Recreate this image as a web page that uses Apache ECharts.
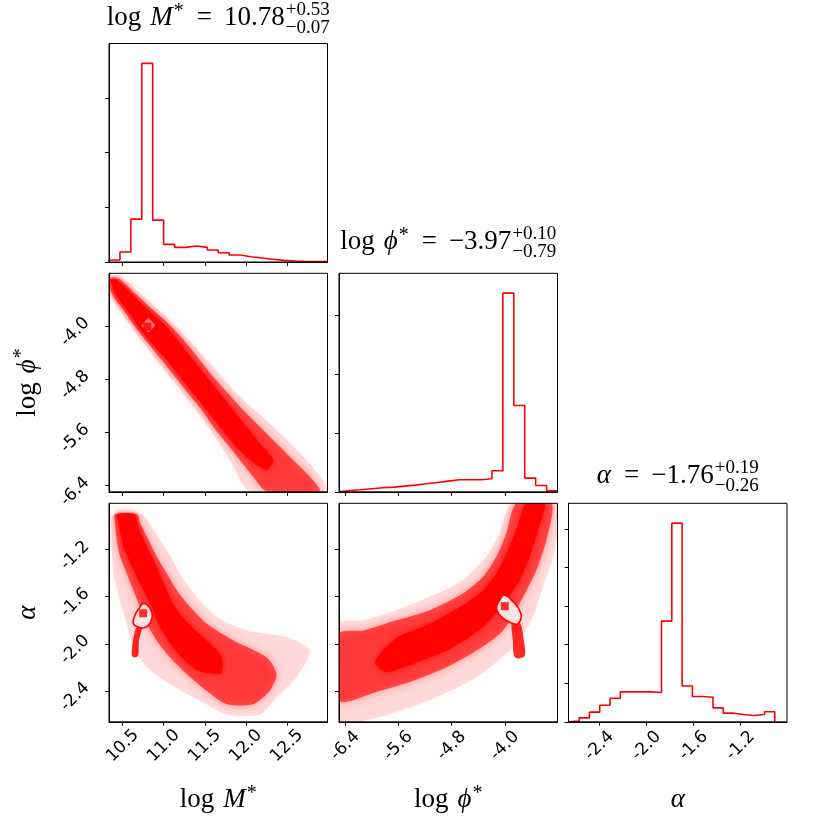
<!DOCTYPE html>
<html lang="en">
<head>
    <meta charset="UTF-8">
    <title>corner plot</title>
    <style>
        html, body {
            margin: 0;
            background: #fff;
        }

        #chart {
            width: 831px;
            height: 831px;
        }
    </style>
</head>
<body>
    <div id="chart"></div>

    <script src="https://cdn.jsdelivr.net/npm/echarts@6/dist/echarts.min.js"></script>
    <script>
        // axis ranges, read from the frame edges
        var logMRange = [10.333, 12.995];
        var logPhiRange = [-6.493, -3.207];
        var alphaRange = [-2.663, -0.806];
        var alphaHistRange = [-2.66, -0.91];   // alpha histogram bins stop short of the axis end

        var logMTicks = [10.5, 11.0, 11.5, 12.0, 12.5];
        var logPhiTicks = [-6.4, -5.6, -4.8, -4.0];
        var alphaTicks = [-2.4, -2.0, -1.6, -1.2];

        // histogram counts (20 bins each, arbitrary units, one y tick per 1000)
        var logMCounts = [37, 183, 785, 3634, 767, 323, 268, 292, 268, 219, 170, 128, 97, 73, 49, 30, 18, 8, 6, 6];
        var logPhiCounts = [23, 34, 51, 68, 80, 97, 114, 136, 159, 182, 205, 205, 205, 222, 358, 3375, 1466, 233, 108, 17];
        var alphaCounts = [17, 103, 250, 431, 612, 776, 776, 776, 759, 2612, 5155, 931, 655, 638, 362, 224, 190, 164, 190, 259];
        var logMHistTicks = [0, 1000, 2000, 3000];
        var logPhiHistTicks = [0, 1000, 2000, 3000];
        var alphaHistTicks = [0, 1000, 2000, 3000, 4000, 5000];

        // titles: median and errors
        var medians = ['10.78', '\u22123.97', '\u22121.76'];
        var errUp = ['+0.53', '+0.10', '+0.19'];
        var errLo = ['\u22120.07', '\u22120.79', '\u22120.26'];

        // best-fit squares
        var bestMPhi = [10.80, -4.01];
        var bestMAlpha = [10.75, -1.74];
        var bestPhiAlpha = [-4.00, -1.68];

        // point clouds, traced as nested outlines (outer sparse -> dense core)
        var mPhiHalo = [[10.333, -3.258], [10.337, -3.509], [10.609, -4.010], [10.913, -4.511], [11.238, -5.013], [11.542, -5.514], [11.806, -6.015], [12.050, -6.486], [12.991, -6.486], [12.739, -6.015], [12.334, -5.514], [11.887, -5.013], [11.522, -4.511], [11.157, -4.010], [10.711, -3.509], [10.467, -3.258]];
        var mPhiMid = [[10.337, -3.283], [10.366, -3.509], [10.508, -3.759], [10.650, -4.010], [10.812, -4.261], [10.974, -4.511], [11.137, -4.762], [11.299, -5.013], [11.461, -5.263], [11.603, -5.514], [11.765, -5.764], [11.928, -6.015], [12.090, -6.266], [12.252, -6.486], [12.902, -6.486], [12.780, -6.266], [12.577, -6.015], [12.374, -5.764], [12.171, -5.514], [11.968, -5.263], [11.786, -5.013], [11.603, -4.762], [11.441, -4.511], [11.279, -4.261], [11.096, -4.010], [10.873, -3.759], [10.650, -3.509], [10.447, -3.283]];
        var mPhiCore = [[10.354, -3.308], [10.406, -3.509], [10.548, -3.759], [10.690, -4.010], [10.853, -4.261], [11.035, -4.511], [11.198, -4.762], [11.360, -5.013], [11.522, -5.263], [11.684, -5.514], [11.847, -5.764], [12.050, -6.015], [12.252, -6.165], [12.334, -6.015], [12.171, -5.764], [12.009, -5.514], [11.847, -5.263], [11.684, -5.013], [11.522, -4.762], [11.360, -4.511], [11.198, -4.261], [11.035, -4.010], [10.812, -3.759], [10.609, -3.509], [10.427, -3.308]];
        var mPhiContour = [[10.812, -3.869], [10.870, -3.935], [10.905, -3.985], [10.870, -4.045], [10.812, -4.110], [10.760, -4.050], [10.719, -4.000], [10.760, -3.930]];

        var mAlphaHalo = [[10.386, -0.900], [10.366, -1.114], [10.386, -1.400], [10.467, -1.628], [10.548, -1.828], [10.629, -2.028], [10.792, -2.200], [11.076, -2.343], [11.441, -2.485], [11.765, -2.600], [12.171, -2.600], [12.374, -2.457], [12.618, -2.285], [12.780, -2.057], [12.496, -1.943], [12.009, -1.886], [11.644, -1.771], [11.400, -1.600], [11.198, -1.400], [11.035, -1.200], [10.873, -1.029], [10.731, -0.900]];
        var mAlphaMid = [[10.406, -0.900], [10.406, -0.971], [10.427, -1.114], [10.467, -1.257], [10.548, -1.400], [10.629, -1.543], [10.711, -1.686], [10.792, -1.828], [10.913, -1.971], [11.076, -2.114], [11.279, -2.257], [11.522, -2.400], [11.765, -2.514], [12.090, -2.514], [12.293, -2.400], [12.374, -2.257], [12.252, -2.114], [11.847, -1.971], [11.522, -1.828], [11.319, -1.686], [11.157, -1.543], [11.035, -1.400], [10.913, -1.257], [10.812, -1.114], [10.711, -0.971], [10.678, -0.900]];
        var mAlphaCore = [[10.427, -0.900], [10.447, -0.971], [10.487, -1.114], [10.556, -1.257], [10.650, -1.400], [10.751, -1.543], [10.853, -1.686], [10.934, -1.828], [11.056, -1.971], [11.218, -2.114], [11.420, -2.230], [11.700, -2.250], [11.700, -2.100], [11.522, -1.971], [11.299, -1.828], [11.137, -1.686], [11.035, -1.543], [10.946, -1.400], [10.853, -1.257], [10.751, -1.114], [10.678, -0.971], [10.650, -0.900]];
        var mAlphaTail = [[10.670, -1.857], [10.735, -1.857], [10.698, -1.971], [10.690, -2.100], [10.650, -2.117], [10.610, -2.100], [10.626, -1.971]];
        var mAlphaContour = [[10.759, -1.657], [10.853, -1.729], [10.841, -1.814], [10.771, -1.862], [10.690, -1.857], [10.629, -1.828], [10.650, -1.757], [10.690, -1.708]];

        var phiAlphaHalo = [[-6.495, -1.828], [-6.129, -1.800], [-5.628, -1.714], [-5.126, -1.600], [-4.625, -1.457], [-4.274, -1.257], [-4.074, -1.057], [-3.898, -0.806], [-3.222, -0.806], [-3.247, -1.200], [-3.422, -1.514], [-3.623, -1.828], [-3.924, -2.057], [-4.425, -2.285], [-4.926, -2.428], [-5.427, -2.542], [-5.928, -2.628], [-6.495, -2.657]];
        var phiAlphaMid = [[-6.495, -1.914], [-6.129, -1.886], [-5.628, -1.800], [-5.126, -1.714], [-4.625, -1.571], [-4.324, -1.429], [-4.124, -1.257], [-3.974, -1.057], [-3.823, -0.806], [-3.297, -0.806], [-3.372, -1.114], [-3.522, -1.371], [-3.723, -1.600], [-4.024, -1.886], [-4.425, -2.057], [-4.876, -2.200], [-5.377, -2.314], [-5.878, -2.400], [-6.495, -2.485]];
        var phiAlphaCore = [[-5.950, -2.150], [-5.628, -1.950], [-5.126, -1.830], [-4.625, -1.671], [-4.324, -1.543], [-4.124, -1.400], [-3.974, -1.229], [-3.823, -1.029], [-3.673, -0.806], [-3.397, -0.806], [-3.497, -1.029], [-3.623, -1.257], [-3.773, -1.457], [-3.974, -1.628], [-4.224, -1.800], [-4.525, -1.943], [-4.876, -2.057], [-5.377, -2.171], [-5.800, -2.240]];
        var phiAlphaTail = [[-3.893, -1.817], [-3.773, -1.817], [-3.713, -1.971], [-3.698, -2.100], [-3.803, -2.125], [-3.863, -2.100], [-3.878, -1.971]];
        var phiAlphaContour = [[-4.009, -1.586], [-3.874, -1.643], [-3.758, -1.742], [-3.798, -1.828], [-3.898, -1.823], [-4.024, -1.785], [-4.099, -1.737], [-4.123, -1.686], [-4.074, -1.628]];

        var RED = '#ff0000';
        var colLeft = [109, 339, 568.5];
        var rowTop = [43.5, 273.3, 503.3];
        var size = 218.5;

        var vars = [
            { range: logMRange, ticks: logMTicks },
            { range: logPhiRange, ticks: logPhiTicks },
            { range: alphaRange, ticks: alphaTicks }
        ];
        var hists = [
            { counts: logMCounts, binRange: logMRange, ticks: logMHistTicks },
            { counts: logPhiCounts, binRange: logPhiRange, ticks: logPhiHistTicks },
            { counts: alphaCounts, binRange: alphaHistRange, ticks: alphaHistTicks }
        ];
        var panels = [[0, 0], [1, 0], [1, 1], [2, 0], [2, 1], [2, 2]];

        function makeAxis(dim, gi, range, ticks, showLabels) {
            var label = {
                show: showLabels,
                customValues: ticks,
                rotate: 45,
                fontFamily: 'DejaVu Sans',
                fontSize: 17,
                color: '#000',
                align: 'center',
                verticalAlign: dim === 'x' ? 'middle' : 'top',
                margin: dim === 'x' ? 24 : 40,
                formatter: function (v) { return Number(v).toFixed(1); }
            };
            return {
                type: 'value',
                gridIndex: gi,
                min: range[0],
                max: range[1],
                position: dim === 'x' ? 'bottom' : 'left',
                axisLine: { show: true, onZero: false, lineStyle: { color: '#000', width: 1 } },
                axisTick: { show: true, inside: false, length: 4, customValues: ticks, lineStyle: { color: '#000', width: 1 } },
                axisLabel: label,
                splitLine: { show: false }
            };
        }

        function stepData(h) {
            var n = h.counts.length;
            var lo = h.binRange[0];
            var w = (h.binRange[1] - lo) / n;
            var d = [[lo, 0]];
            for (var i = 0; i < n; i++) d.push([lo + i * w, h.counts[i]]);
            d.push([lo + n * w, 0]);
            return d;
        }

        function polySeries(gi, pts, style, smooth) {
            return {
                type: 'custom',
                xAxisIndex: gi,
                yAxisIndex: gi,
                data: pts,
                clip: true,
                silent: true,
                renderItem: function (params, api) {
                    if (params.dataIndex !== 0) return null;
                    return {
                        type: 'polygon',
                        shape: { points: pts.map(function (p) { return api.coord(p); }), smooth: smooth },
                        style: style
                    };
                }
            };
        }

        function cloud(gi, halo, mid, core) {
            return [
                polySeries(gi, halo, { fill: 'rgba(255,0,0,0.13)', shadowBlur: 12, shadowColor: 'rgba(255,0,0,0.25)' }, 0.25),
                polySeries(gi, mid, { fill: 'rgba(255,0,0,0.62)', shadowBlur: 8, shadowColor: 'rgba(255,0,0,0.5)' }, 0.25),
                polySeries(gi, core, { fill: 'rgba(255,0,0,0.9)', shadowBlur: 5, shadowColor: 'rgba(255,0,0,0.7)' }, 0.25)
            ];
        }

        function contour(gi, pts, fill) {
            return polySeries(gi, pts, { fill: fill, stroke: RED, lineWidth: 1.6 }, 0.45);
        }

        function marker(gi, pt) {
            return {
                type: 'scatter', xAxisIndex: gi, yAxisIndex: gi, data: [pt],
                symbol: 'rect', symbolSize: 8, itemStyle: { color: RED }, silent: true, z: 5
            };
        }

        var grids = [], xAxes = [], yAxes = [], series = [];
        panels.forEach(function (rc, gi) {
            var r = rc[0], c = rc[1];
            grids.push({
                left: colLeft[c], top: rowTop[r], width: size, height: size,
                containLabel: false, outerBoundsMode: 'none',
                show: true, backgroundColor: 'transparent', borderColor: '#000', borderWidth: 1, z: 10
            });
            xAxes.push(makeAxis('x', gi, vars[c].range, vars[c].ticks, r === 2));
            if (r === c) {
                var h = hists[c];
                yAxes.push(makeAxis('y', gi, [0, 1.1 * Math.max.apply(null, h.counts)], h.ticks, false));
                series.push({
                    type: 'line', xAxisIndex: gi, yAxisIndex: gi, data: stepData(h), step: 'end',
                    symbol: 'none', lineStyle: { color: RED, width: 1.6 }, silent: true
                });
            } else {
                yAxes.push(makeAxis('y', gi, vars[r].range, vars[r].ticks, c === 0));
            }
        });

        series = series.concat(cloud(1, mPhiHalo, mPhiMid, mPhiCore));
        series.push(contour(1, mPhiContour, '#ff7070'), marker(1, bestMPhi));

        series = series.concat(cloud(3, mAlphaHalo, mAlphaMid, mAlphaCore));
        series.push(polySeries(3, mAlphaTail, { fill: 'rgba(255,0,0,0.85)' }, 0.3));
        series.push(contour(3, mAlphaContour, '#ffe2e2'), marker(3, bestMAlpha));

        series = series.concat(cloud(4, phiAlphaHalo, phiAlphaMid, phiAlphaCore));
        series.push(polySeries(4, phiAlphaTail, { fill: 'rgba(255,0,0,0.85)' }, 0.3));
        series.push(contour(4, phiAlphaContour, '#ffe2e2'), marker(4, bestPhiAlpha));

        // math-style labels built from text pieces
        var measureCtx = document.createElement('canvas').getContext('2d');
        var BIG = 27, SMALL = 19;

        function mathFont(p) {
            return (p.it ? 'italic ' : '') + p.size + 'px "Liberation Serif", "DejaVu Serif", serif';
        }
        function textWidth(p) {
            measureCtx.font = mathFont(p);
            return measureCtx.measureText(p.t).width;
        }
        function rm(t, gap) { return { t: t, size: BIG, gap: gap || 0 }; }
        function it(t, gap) { return { t: t, size: BIG, it: true, gap: gap || 0 }; }
        function star() { return { t: '*', size: SMALL + 1, dy: -8, gap: 1 }; }
        function limits(up, lo) {
            return { stack: [{ t: up, size: SMALL, dy: -10.5 }, { t: lo, size: SMALL, dy: 7 }], gap: 1 };
        }

        function mathText(pieces, cx, baseline, rotation) {
            var kids = [];
            var x = 0;
            function put(p) {
                kids.push({
                    type: 'text', x: x, y: (p.dy || 0) - 0.34 * p.size,
                    style: { text: p.t, font: mathFont(p), fill: '#000', align: 'left', verticalAlign: 'middle' }
                });
                return textWidth(p);
            }
            pieces.forEach(function (p) {
                x += p.gap || 0;
                if (p.stack) {
                    var x0 = x, w = 0;
                    p.stack.forEach(function (q) { x = x0; w = Math.max(w, put(q)); });
                    x = x0 + w;
                } else {
                    x += put(p);
                }
            });
            kids.forEach(function (k) { k.x -= x / 2; });
            return { type: 'group', x: cx, y: baseline, rotation: rotation || 0, children: kids, silent: true };
        }

        var cx = colLeft.map(function (l) { return l + size / 2; });
        var graphics = [
            mathText([rm('log'), it('M', 9), star(), rm('=', 13), rm(medians[0], 12), limits(errUp[0], errLo[0])], cx[0], 27),
            mathText([rm('log'), it('\u03d5', 9), star(), rm('=', 13), rm(medians[1], 12), limits(errUp[1], errLo[1])], cx[1], 251),
            mathText([it('\u03b1'), rm('=', 13), rm(medians[2], 12), limits(errUp[2], errLo[2])], cx[2], 485),
            mathText([rm('log'), it('M', 9), star()], cx[0], 809),
            mathText([rm('log'), it('\u03d5', 9), star()], cx[1], 809),
            mathText([it('\u03b1')], cx[2], 809),
            mathText([rm('log'), it('\u03d5', 9), star()], 37, rowTop[1] + size / 2, Math.PI / 2),
            mathText([it('\u03b1')], 37, rowTop[2] + size / 2, Math.PI / 2)
        ];

        var myChart = echarts.init(document.getElementById('chart'));
        myChart.setOption({
            animation: false,
            backgroundColor: '#fff',
            grid: grids,
            xAxis: xAxes,
            yAxis: yAxes,
            series: series,
            graphic: { elements: graphics }
        });
    </script>
</body>
</html>
